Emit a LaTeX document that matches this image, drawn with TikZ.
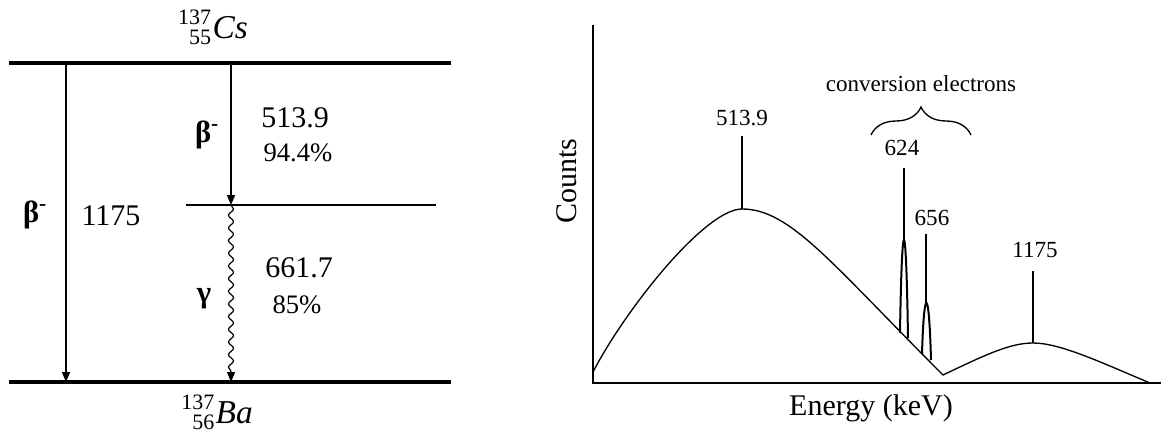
\documentclass[tikz,border=0pt]{standalone}
\usepackage{fontspec}
\setmainfont{Liberation Serif}
\usepackage{tikz}
\usetikzlibrary{arrows.meta,decorations.pathmorphing,decorations.pathreplacing}
\newcommand{\nuclideo}[3]{$\vcenter{\hbox{\fontsize{16.5}{14.5}\selectfont
  \begin{tabular}{@{}r@{}}#1\\#2\end{tabular}}}$\kern1pt\textit{#3}}
\tikzset{
  nivel/.style={line width=2.3pt, black},
  subnivel/.style={line width=1.1pt, black},
  seta/.style={-{Triangle[length=7.5pt, width=6pt]}, line width=1.1pt},
  onda/.style={-{Triangle[length=7.5pt, width=6pt]}, line width=0.9pt, decorate,
               decoration={snake, amplitude=1.9pt, segment length=9.5pt, post length=7pt}},
  rotulo/.style={font=\fontsize{22.5}{26}\selectfont, inner sep=0pt},
  rotuloP/.style={font=\fontsize{20}{24}\selectfont, inner sep=0pt},
  grego/.style={font=\fontsize{23}{26}\selectfont\bfseries, inner sep=0pt},
  nucl/.style={font=\fontsize{25}{28}\selectfont, inner sep=0pt},
  pico/.style={font=\fontsize{17.3}{20}\selectfont, inner sep=0pt},
  eixo/.style={line width=1.4pt},
  curva/.style={line width=1pt},
  linha/.style={line width=1pt},
}

\begin{document}
\begin{tikzpicture}[x=0.75pt, y=-0.75pt]
  \useasboundingbox (0,0) rectangle (1161,435);

  % esquema de decaimento
  \node[nucl] (cs) at (213,30) {\nuclideo{137}{55}{Cs}};
  \node[nucl] (ba) at (217,415) {\nuclideo{137}{56}{Ba}};
  \draw[nivel] (9,63) -- (451,63);
  \draw[subnivel] (186,205) -- (436,205);
  \draw[nivel] (9,382) -- (451,382);
  \coordinate (cs-a) at (66,63);  \coordinate (ba-a) at (66,382);
  \coordinate (cs-b) at (231,63); \coordinate (ex-b) at (231,205);
  \coordinate (ba-b) at (231,382);
  \draw[seta] (cs-a) -- (ba-a);
  \draw[seta] (cs-b) -- (ex-b);
  \draw[onda] (ex-b) -- (ba-b);
  \node[grego] (beta1) at (35,215) {β\textsuperscript{-}};
  \node[rotulo] (e1) at (111,216) {1175};
  \node[grego] (beta2) at (207,135) {β\textsuperscript{-}};
  \node[rotulo] (e2) at (295,118) {513.9};
  \node[rotuloP] (p2) at (298,153) {94.4\%};
  \node[grego] (gama) at (204,299) {γ};
  \node[rotulo] (e3) at (299,268) {661.7};
  \node[rotuloP] (p3) at (297,305) {85\%};

  % espectro
  \draw[eixo] (593,25) -- (593,383) -- (1161,383);
  \node[rotulo, rotate=90] (contagens) at (567,181) {Counts};
  \node[rotulo] (energia) at (871,408) {Energy (keV)};
  \draw[curva] (593,372) .. controls (625,310) and (705,209) .. (742,209)
               .. controls (790,209) and (830,262) .. (943,375)
               .. controls (985,355) and (1010,343) .. (1033,343)
               .. controls (1060,343) and (1100,362) .. (1150,383);
  \draw[linha, line width=1.5pt] (900,333) .. controls (902,208) and (906,208) .. (908,338);
  \draw[linha, line width=1.5pt] (922,354) .. controls (924,285) and (929,285) .. (931,360);
  \coordinate (pk1) at (742,209);  \coordinate (tk1) at (742,136);
  \coordinate (pk2) at (904,240);  \coordinate (tk2) at (904,168);
  \coordinate (pk3) at (926,303);  \coordinate (tk3) at (926,234);
  \coordinate (pk4) at (1033,343); \coordinate (tk4) at (1033,271);
  \draw[linha] (pk1) -- (tk1);
  \draw[linha] (pk2) -- (tk2);
  \draw[linha] (pk3) -- (tk3);
  \draw[linha] (pk4) -- (tk4);
  \node[pico] (l1) at (742,118) {513.9};
  \node[pico] (l2) at (902,148) {624};
  \node[pico] (l3) at (932,218) {656};
  \node[pico] (l4) at (1035,250) {1175};
  \draw[linha, decorate, decoration={brace, amplitude=21pt}] (871,135) -- (971,135);
  \node[pico] (conv) at (921,84) {conversion electrons};
\end{tikzpicture}
\end{document}
